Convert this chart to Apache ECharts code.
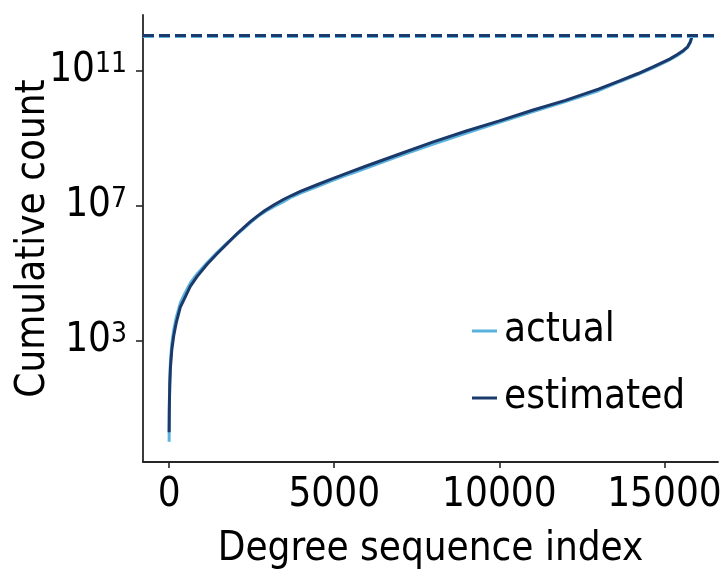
<!DOCTYPE html>
<html>
<head>
<meta charset="utf-8">
<script src="https://cdn.jsdelivr.net/npm/echarts@6/dist/echarts.min.js"></script>
<style>
html,body{margin:0;padding:0;background:#fff;}
#chart{width:721px;height:571px;}
</style>
</head>
<body>
<div id="chart"></div>
<script>
// Degree sequence index (x)
const indexValues = [0,2,5,10,20,40,80,140,220,340,460,640,850,1150,1450,1755,2100,2460,2680,2900,3180,3460,3720,3975,4480,4970,5490,5990,7000,8000,9000,10000,11000,12000,13000,13660,14200,14670,15170,15400,15575,15700,15780,15815,15830];
// Cumulative count, actual
const actualCounts = [1,4.0,10,22,71,240,790,2.1e3,5.0e3,1.3e4,2.3e4,5.0e4,9.5e4,2.0e5,4.0e5,7.6e5,1.5e6,3.1e6,4.7e6,6.5e6,9.3e6,1.3e7,1.8e7,2.3e7,3.6e7,5.6e7,8.7e7,1.3e8,3.0e8,6.6e8,1.4e9,2.9e9,5.9e9,1.2e10,2.5e10,4.7e10,7.6e10,1.2e11,2.1e11,2.8e11,3.7e11,4.8e11,6.6e11,8.5e11,1.0e12];
// Cumulative count, estimated
const estimatedCounts = [1.9,3.5,7.9,17,50,160,520,1.4e3,3.5e3,9.8e3,1.7e4,4.0e4,7.9e4,1.8e5,3.7e5,7.4e5,1.6e6,3.3e6,4.9e6,7.1e6,1.05e7,1.5e7,2.0e7,2.6e7,4.1e7,6.3e7,9.8e7,1.5e8,3.4e8,7.6e8,1.6e9,3.2e9,6.6e9,1.3e10,2.8e10,5.0e10,8.1e10,1.3e11,2.2e11,3.0e11,3.9e11,5.0e11,6.9e11,8.9e11,1.1e12];
// Totals (dashed horizontal lines)
const actualTotal = 1.0e12;
const estimatedTotal = 1.1e12;
// Tick labels
const xTicks = [0,5000,10000,15000];
const yTickExponents = [3,7,11];
const seriesNames = ['actual','estimated'];

const FONT = "'DejaVu Sans Condensed','DejaVu Sans',sans-serif";
const FS = 40;
const LIGHT = '#5BB2DE';
const DARK = '#1B3A6B';
const AXIS = '#262626';

const toPts = (xs, ys) => xs.map((x, i) => [x, Math.log10(ys[i])]);

const chart = echarts.init(document.getElementById('chart'), null, {renderer: 'canvas'});
chart.setOption({
  animation: false,
  backgroundColor: '#fff',
  grid: {left: 143, right: 3, top: 15, bottom: 109, containLabel: false, outerBoundsMode: 'none'},
  legend: {
    data: seriesNames,
    orient: 'vertical',
    left: 472, top: 311, padding: 0,
    itemWidth: 25, itemHeight: 3, itemGap: 27,
    icon: 'rect',
    textStyle: {fontFamily: FONT, fontSize: FS, color: '#000', padding: [0,0,0,2]}
  },
  xAxis: {
    type: 'value',
    min: -791.5, max: 16621.5,
    name: 'Degree sequence index',
    nameLocation: 'middle', nameGap: 68, nameMoveOverlap: false,
    nameTextStyle: {fontFamily: FONT, fontSize: FS, color: '#000'},
    axisLine: {show: true, onZero: false, lineStyle: {color: AXIS, width: 1.8}},
    axisTick: {show: true, customValues: xTicks, length: 6, lineStyle: {color: AXIS, width: 1.6}},
    axisLabel: {customValues: xTicks, margin: 14, formatter: v => String(v), fontFamily: FONT, fontSize: FS, color: '#000'},
    splitLine: {show: false}
  },
  yAxis: {
    type: 'value',
    min: -0.602, max: 12.642,
    name: 'Cumulative count',
    nameLocation: 'middle', nameGap: 89, nameRotate: 90, nameMoveOverlap: false,
    nameTextStyle: {fontFamily: FONT, fontSize: FS, color: '#000'},
    axisLine: {show: true, onZero: false, lineStyle: {color: AXIS, width: 1.8}},
    axisTick: {show: true, customValues: yTickExponents, length: 7, lineStyle: {color: AXIS, width: 1.6}},
    axisLabel: {
      customValues: yTickExponents, margin: 16,
      formatter: v => '{b|10}{s|' + v + '}',
      rich: {
        b: {fontFamily: FONT, fontSize: FS, color: '#000'},
        s: {fontFamily: FONT, fontSize: 28, color: '#000', verticalAlign: 'top', lineHeight: 19}
      }
    },
    splitLine: {show: false}
  },
  series: [
    {
      name: seriesNames[0], type: 'line', data: toPts(indexValues, actualCounts),
      showSymbol: false, smooth: false,
      lineStyle: {color: LIGHT, width: 3}, itemStyle: {color: LIGHT}, z: 2,
      markLine: {silent: true, symbol: ['none','none'], label: {show: false},
        lineStyle: {color: LIGHT, width: 3, type: [11,5]},
        data: [{yAxis: Math.log10(actualTotal)}]}
    },
    {
      name: seriesNames[1], type: 'line', data: toPts(indexValues, estimatedCounts),
      showSymbol: false, smooth: false,
      lineStyle: {color: DARK, width: 3}, itemStyle: {color: DARK}, z: 3,
      markLine: {silent: true, symbol: ['none','none'], label: {show: false},
        lineStyle: {color: DARK, width: 3, type: [11,5]},
        data: [{yAxis: Math.log10(estimatedTotal)}]}
    }
  ]
});
</script>
</body>
</html>
